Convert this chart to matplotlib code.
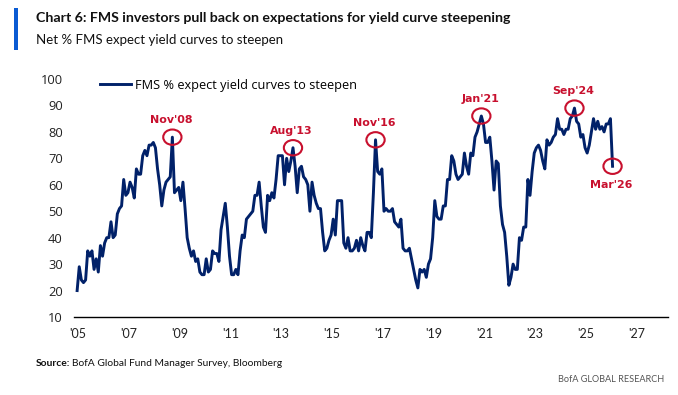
import matplotlib
matplotlib.use("Agg")
import matplotlib.pyplot as plt
from matplotlib.patches import Ellipse, Rectangle
from matplotlib.transforms import ScaledTranslation
import pandas as pd

# ── Data: net % of FMS investors expecting yield curves to steepen (monthly, Feb'05–Mar'26)
y2005 = [20, 29, 24, 23, 24, 35, 33, 35, 28, 32, 27]
y2006 = [37, 33, 38, 40, 40, 46, 40, 41, 49, 51, 52, 62]
y2007 = [56, 57, 61, 59, 55, 66, 64, 64, 71, 73, 71, 75]
y2008 = [75, 76, 74, 66, 60, 52, 58, 61, 62, 63, 78, 57]
y2009 = [58, 59, 54, 61, 51, 40, 36, 33, 35, 31, 32, 27]
y2010 = [26, 26, 32, 27, 28, 35, 34, 34, 31, 43, 48, 53]
y2011 = [44, 33, 26, 26, 28, 26, 35, 41, 40, 47, 48, 49]
y2012 = [50, 56, 56, 61, 52, 44, 42, 56, 54, 57, 55, 62]
y2013 = [71, 71, 71, 60, 70, 65, 69, 74, 67, 57, 66, 67]
y2014 = [63, 62, 60, 50, 61, 56, 53, 51, 51, 42, 35, 36]
y2015 = [39, 41, 47, 41, 54, 54, 54, 38, 36, 40, 35, 35]
y2016 = [36, 39, 35, 40, 37, 35, 42, 42, 40, 57, 77, 65]
y2017 = [64, 66, 50, 51, 50, 50, 51, 46, 45, 44, 47, 36]
y2018 = [35, 35, 36, 32, 28, 24, 21, 28, 27, 28, 25, 30]
y2019 = [32, 40, 54, 48, 47, 47, 52, 52, 62, 62, 71, 69]
y2020 = [64, 62, 63, 64, 72, 67, 64, 72, 71, 78, 80, 83]
y2021 = [86, 83, 76, 76, 78, 69, 58, 69, 68, 52, 45, 42]
y2022 = [33, 22, 25, 30, 28, 28, 40, 39, 44, 44, 62, 56]
y2023 = [65, 72, 74, 75, 73, 69, 66, 77, 75, 76, 78, 79]
y2024 = [85, 81, 81, 79, 81, 81, 85, 86, 89, 84, 83, 78]
y2025 = [79, 74, 72, 75, 80, 85, 81, 84, 81, 82, 80, 83]
y2026 = [83, 85, 67]

values = (y2005 + y2006 + y2007 + y2008 + y2009 + y2010 + y2011 + y2012
          + y2013 + y2014 + y2015 + y2016 + y2017 + y2018 + y2019 + y2020
          + y2021 + y2022 + y2023 + y2024 + y2025 + y2026)
dates = pd.date_range("2005-02-01", periods=len(values), freq="MS")
t = dates.year + (dates.month - 1) / 12

# annotated turning points
ann_labels = ["Nov'08", "Aug'13", "Nov'16", "Jan'21", "Sep'24", "Mar'26"]
ann_dates = ["2008-11", "2013-08", "2016-11", "2021-01", "2024-09", "2026-03"]
ann_above = [True, True, True, True, True, False]

year_ticks = list(range(2005, 2028, 2))
y_ticks = list(range(10, 101, 10))

# ── Style ─────────────────────────────────────────────────────────────────────
NAVY = "#012169"
RED = "#C8102E"
NARROW = ["Lato", "DejaVu Sans"]
plt.rcParams["font.family"] = ["Open Sans", "DejaVu Sans"]

fig = plt.figure(figsize=(6.78, 3.95), dpi=100)
ax = fig.add_axes([74 / 678, 78 / 395, 594 / 678, 238 / 395])

ax.plot(t, values, color=NAVY, lw=2.1, solid_joinstyle="round",
        label="FMS % expect yield curves to steepen")

ax.set_xlim(2004.96, 2028.35)
ax.set_ylim(10, 100)
for s in ["top", "right", "left"]:
    ax.spines[s].set_visible(False)
ax.spines["bottom"].set_linewidth(1.0)
ax.tick_params(length=0)
ax.set_yticks(y_ticks)
ax.set_yticklabels([str(v) for v in y_ticks], fontsize=9.3, color="#222222")
ax.set_xticks(year_ticks)
ax.set_xticklabels(["'" + str(y)[2:] for y in year_ticks], family=NARROW,
                   fontsize=9, color="#222222")
ax.tick_params(axis="y", pad=8)
ax.tick_params(axis="x", pad=8)
shift = ScaledTranslation(3 / 100, 0, fig.dpi_scale_trans)
for lbl in ax.get_xticklabels():
    lbl.set_transform(lbl.get_transform() + shift)

ax.legend(loc="center left", bbox_to_anchor=(26 / 594, (317 - 85) / 238),
          frameon=False, borderpad=0, borderaxespad=0, handlelength=2.4,
          handletextpad=0.35, prop={"size": 9.2})

# circles + labels
for lab, d, above in zip(ann_labels, ann_dates, ann_above):
    i = list(dates.strftime("%Y-%m")).index(d)
    x, v = t[i], values[i]
    ax.add_patch(Ellipse((x, v), width=0.72, height=5.8, fill=False,
                         ec=RED, lw=1.5, zorder=3))
    ly = v + 6.5 if above else v - 7
    ax.text(x - 0.05, ly, lab, ha="center", va="center", color=RED,
            family="DejaVu Sans", fontsize=7.9, fontweight="bold")

# ── Titles / footer ──────────────────────────────────────────────────────────
fig.add_artist(Rectangle((14 / 678, 1 - 50 / 395), 4 / 678, 42 / 395,
                         transform=fig.transFigure, color="#0A5BD3", lw=0))
fig.text(36 / 678, 1 - 18 / 395,
         "Chart 6: FMS investors pull back on expectations for yield curve steepening",
         family=NARROW, fontsize=10.2, fontweight="bold", va="center", color="#111111")
fig.text(36 / 678, 1 - 40 / 395, "Net % FMS expect yield curves to steepen",
         family=NARROW, fontsize=9.5, va="center", color="#111111")

src = fig.text(36 / 678, 1 - 363 / 395, "Source:", family=NARROW, fontsize=7.4,
               fontweight="bold", va="center", color="#111111")
fig.canvas.draw()
bb = src.get_window_extent().transformed(fig.transFigure.inverted())
fig.text(bb.x1 + 2 / 678, 1 - 363 / 395, "BofA Global Fund Manager Survey, Bloomberg",
         family=NARROW, fontsize=7.4, va="center", color="#111111")
fig.text(664 / 678, 1 - 380 / 395, "BofA GLOBAL RESEARCH", family=NARROW,
         fontsize=6.6, ha="right", va="center", color="#555555")

fig.savefig("out.png", dpi=100)
